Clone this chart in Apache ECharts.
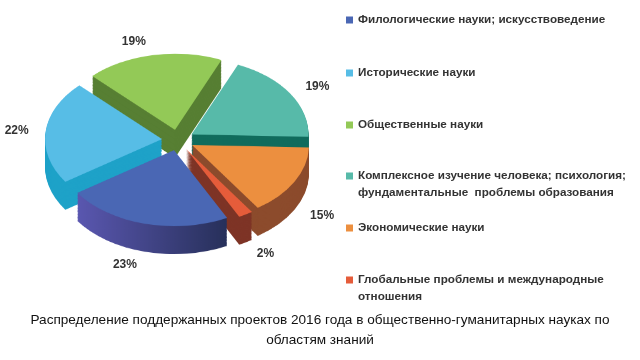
<!DOCTYPE html>
<html>
<head>
<meta charset="utf-8">
<script src="https://cdn.jsdelivr.net/npm/echarts@6/dist/echarts.min.js"></script>
<style>
html,body{margin:0;padding:0;background:#fff;}
#wrap{position:relative;width:640px;height:360px;overflow:hidden;}
#pie{position:absolute;left:0;top:0;width:640px;transform-origin:0 0;}
#ovl{position:absolute;left:0;top:0;width:640px;height:360px;}
</style>
</head>
<body>
<div id="wrap"><div id="pie"></div><div id="ovl"></div></div>
<script>
// ---- data ----
const categories = [
  'Филологические науки; искусствоведение',
  'Исторические науки',
  'Общественные науки',
  'Комплексное изучение человека; психология;\nфундаментальные  проблемы образования',
  'Экономические науки',
  'Глобальные проблемы и международные\nотношения'
];
const values = [23, 22, 19, 19, 15, 2];
const topColors = ['#4A67B4', '#57BDE6', '#93C957', '#57BAA9', '#EC8F3F', '#E55C3A'];
const sideColors = ['#3D4A92', '#1EA2C8', '#577F33', '#116C5D', '#8C4B2C', '#7E3426'];
const legendTops = [11.5, 64.5, 116.5, 167.5, 219.5, 271.5];
const titleText = 'Распределение поддержанных проектов 2016 года в общественно-гуманитарных науках по\nобластям знаний';

// ---- layout ----
const K = 0.65;          // vertical squash of the pie plane
const CX = 178, CY = 140; // screen centre of the top face
const R = 117;
const EXPLODE = 16;
const DEPTH = 28;        // screen px
const START = -63;
const FONT = '"Liberation Sans", Arial, sans-serif';

const pieDiv = document.getElementById('pie');
pieDiv.style.height = (360 / K) + 'px';
pieDiv.style.transform = 'scaleY(' + K + ')';

const chartA = echarts.init(pieDiv, null, {renderer: 'canvas'});
const depthPre = DEPTH / K;
const N = 24;
const seriesA = [];
function mkData(colors, gradBlue) {
  return categories.map((n, i) => {
    let c = colors[i];
    if (gradBlue && i === 0) {
      c = new echarts.graphic.LinearGradient(0, 0, 1, 0, [
        {offset: 0, color: '#5A57B0'}, {offset: 1, color: '#27305A'}
      ]);
    }
    return {name: n, value: values[i], selected: true,
      itemStyle: {color: c}, select: {itemStyle: {color: c}}};
  });
}
for (let s = N; s >= 0; s--) {
  const side = s > 0;
  seriesA.push({
    type: 'pie',
    center: [CX, CY / K + s * depthPre / N],
    radius: R,
    startAngle: START,
    clockwise: true,
    selectedMode: 'multiple',
    selectedOffset: EXPLODE,
    silent: true,
    animation: false,
    label: {show: false},
    labelLine: {show: false},
    emphasis: {disabled: true},
    itemStyle: {borderWidth: 0},
    data: mkData(side ? sideColors : topColors, side)
  });
}
chartA.setOption({animation: false, series: seriesA});

const chartB = echarts.init(document.getElementById('ovl'), null, {renderer: 'canvas'});
const twoLineIcon = 'path://M0,5H7V12H0Z M0,0H0.01V0.01H0Z M0,33.99H0.01V34H0Z';
const legends = categories.map((n, i) => {
  const two = n.indexOf('\n') >= 0;
  return {
    orient: 'vertical',
    left: 346,
    top: legendTops[i],
    padding: 0,
    itemWidth: 7,
    itemHeight: two ? 34 : 7,
    icon: two ? twoLineIcon : 'rect',
    selectedMode: false,
    data: [{name: n, itemStyle: {color: topColors[i], opacity: 1}}],
    textStyle: {fontFamily: FONT, fontSize: 11.7, fontWeight: 'bold', color: '#333', lineHeight: 17}
  };
});
chartB.setOption({
  animation: false,
  backgroundColor: 'transparent',
  title: {
    text: titleText,
    left: 'center',
    top: 310,
    padding: 0,
    textStyle: {fontFamily: FONT, fontSize: 13.6, fontWeight: 'normal', color: '#111', lineHeight: 20}
  },
  legend: legends,
  series: [{
    type: 'pie',
    center: [CX, CY],
    radius: R,
    startAngle: START,
    clockwise: true,
    selectedMode: 'multiple',
    selectedOffset: EXPLODE,
    silent: true,
    emphasis: {disabled: true},
    itemStyle: {color: 'rgba(0,0,0,0)'},
    data: categories.map((n, i) => ({name: n, value: values[i], selected: true,
      itemStyle: {color: 'rgba(0,0,0,0)'}, select: {itemStyle: {color: 'rgba(0,0,0,0)'}}})),
    label: {
      show: true, position: 'outside', formatter: '{c}%',
      fontFamily: FONT, fontSize: 12, fontWeight: 'bold', color: '#333'
    },
    labelLine: {show: false, length: 12, length2: 0},
    labelLayout: function (p) {
      const r = p.labelRect;
      const ly = r.y + r.height / 2;
      let ny = CY + (ly - CY) * K;
      if (ly > CY) ny += DEPTH;
      return {dy: ny - ly};
    }
  }]
});
</script>
</body>
</html>
